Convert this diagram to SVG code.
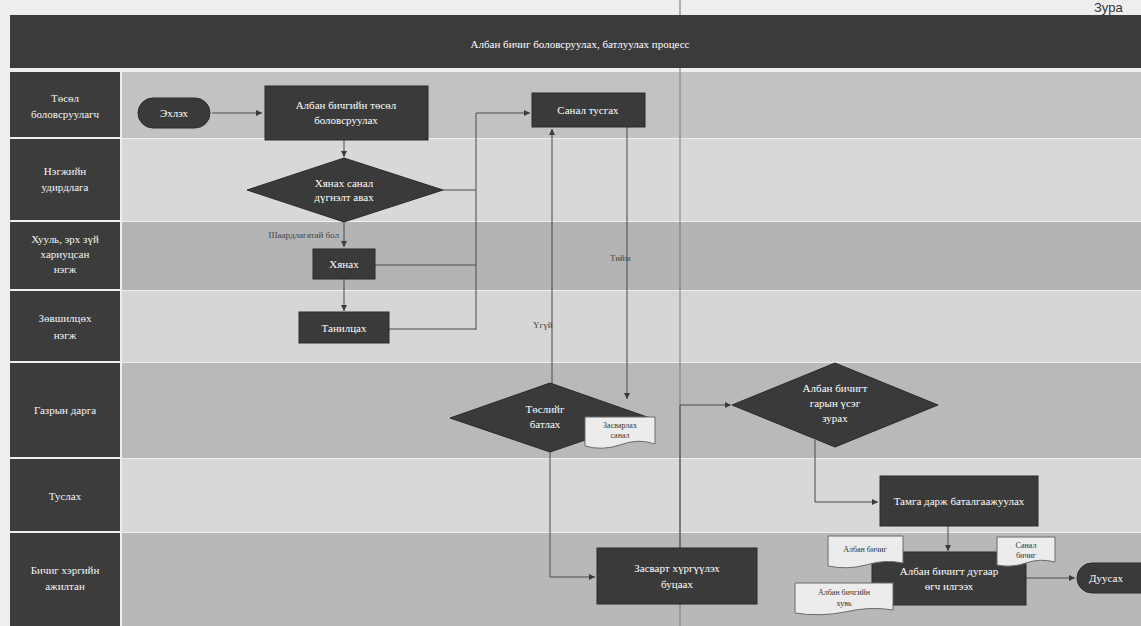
<svg xmlns="http://www.w3.org/2000/svg" width="1141" height="626" viewBox="0 0 1141 626">
<defs>
<style>
.bg{fill:#eeeeee}
.hdr{fill:#3c3c3c}
.node{fill:#3a3a3a;stroke:#2a2a2a;stroke-width:1}
.doc{fill:#ececec;stroke:#6a6a6a;stroke-width:1}
.t{font-family:"Liberation Serif","DejaVu Serif",serif;font-size:11px;fill:#ffffff;text-anchor:middle}
.th{font-family:"Liberation Serif","DejaVu Serif",serif;font-size:11px;fill:#f4f4f4;text-anchor:middle}
.td{font-family:"Liberation Serif","DejaVu Serif",serif;font-size:8px;fill:#333333;text-anchor:middle}
.tl{font-family:"Liberation Serif","DejaVu Serif",serif;font-size:9px;fill:#444444}
.c{fill:none;stroke:#4a4a4a;stroke-width:1}
</style>
<marker id="ah" markerWidth="7" markerHeight="7" refX="6" refY="3.5" orient="auto" markerUnits="userSpaceOnUse">
<path d="M0,0.5 L6,3.5 L0,6.5 Z" fill="#3a3a3a"/>
</marker>
</defs>
<rect class="bg" x="0" y="0" width="1141" height="626"/>
<text x="1094" y="12" font-family="Liberation Sans, sans-serif" font-size="13" fill="#333">Зура</text>
<g id="title">
<rect x="10" y="15" width="1131" height="53" fill="#3b3b3b"/>
<text x="580" y="48" class="t" font-size="12">Албан бичиг боловсруулах, батлуулах процесс</text>
</g>
<g id="lanes">
<rect x="122" y="72" width="1019" height="66" fill="#c2c2c2"/>
<rect x="122" y="139" width="1019" height="82" fill="#d8d8d8"/>
<rect x="122" y="222" width="1019" height="68" fill="#b4b4b4"/>
<rect x="122" y="291" width="1019" height="71" fill="#d6d6d6"/>
<rect x="122" y="363" width="1019" height="95" fill="#b9b9b9"/>
<rect x="122" y="459" width="1019" height="73" fill="#d8d8d8"/>
<rect x="122" y="533" width="1019" height="93" fill="#b8b8b8"/>
<rect class="hdr" x="10" y="72" width="110" height="65"/>
<rect class="hdr" x="10" y="139" width="110" height="81"/>
<rect class="hdr" x="10" y="222" width="110" height="67"/>
<rect class="hdr" x="10" y="291" width="110" height="70"/>
<rect class="hdr" x="10" y="363" width="110" height="94"/>
<rect class="hdr" x="10" y="459" width="110" height="72"/>
<rect class="hdr" x="10" y="533" width="110" height="93"/>
<text class="th" x="65" y="102">Төсөл</text>
<text class="th" x="65" y="118">боловсруулагч</text>
<text class="th" x="65" y="175">Нэгжийн</text>
<text class="th" x="65" y="191">удирдлага</text>
<text class="th" x="65" y="243">Хууль, эрх зүй</text>
<text class="th" x="65" y="258">хариуцсан</text>
<text class="th" x="65" y="273">нэгж</text>
<text class="th" x="65" y="322">Зөвшилцөх</text>
<text class="th" x="65" y="339">нэгж</text>
<text class="th" x="65" y="414">Газрын дарга</text>
<text class="th" x="65" y="500">Туслах</text>
<text class="th" x="65" y="574">Бичиг хэргийн</text>
<text class="th" x="65" y="590">ажилтан</text>
</g>
<g id="connectors">
<line x1="680" y1="0" x2="680" y2="15" stroke="#8a8a8a" stroke-width="1.2"/>
<line x1="680" y1="68" x2="680" y2="626" stroke="#7a7a7a" stroke-width="1.2" opacity="0.8"/>
<path class="c" d="M212,113 H262" marker-end="url(#ah)"/>
<path class="c" d="M344,140 V157" marker-end="url(#ah)"/>
<path class="c" d="M443,190 H476 M476,330 V113 H530" marker-end="url(#ah)"/>
<path class="c" d="M344,222 V247" marker-end="url(#ah)"/>
<path class="c" d="M375,265 H476"/>
<path class="c" d="M344,279 V311" marker-end="url(#ah)"/>
<path class="c" d="M389,329 H476"/>
<path class="c" d="M552,384 V129" marker-end="url(#ah)"/>
<path class="c" d="M627,127 V399" marker-end="url(#ah)"/>
<path class="c" d="M550,452 V577 H595" marker-end="url(#ah)"/>
<path class="c" d="M680,548 V405 H731" marker-end="url(#ah)"/>
<path class="c" d="M815,440 V502 H878" marker-end="url(#ah)"/>
<path class="c" d="M948,526 V551" marker-end="url(#ah)"/>
<path class="c" d="M1026,578 H1075" marker-end="url(#ah)"/>
<text class="tl" x="339" y="238" text-anchor="end" font-size="8">Шаардлагатай бол</text>
<text class="tl" x="610" y="261">Тийм</text>
<text class="tl" x="533" y="328">Үгүй</text>
</g>
<g id="start">
<rect class="node" x="138" y="98" width="72" height="30" rx="15"/>
<text class="t" x="174" y="117">Эхлэх</text>
</g>
<g id="draft">
<rect class="node" x="265" y="86" width="163" height="54"/>
<text class="t" x="346" y="109">Албан бичгийн төсөл</text>
<text class="t" x="346" y="124">боловсруулах</text>
</g>
<g id="review-decision">
<polygon class="node" points="344,158 443,190 344,222 247,190"/>
<text class="t" x="344" y="187">Хянах санал</text>
<text class="t" x="344" y="201">дүгнэлт авах</text>
</g>
<g id="review">
<rect class="node" x="313" y="249" width="62" height="30"/>
<text class="t" x="344" y="268">Хянах</text>
</g>
<g id="acquaint">
<rect class="node" x="299" y="312" width="90" height="31"/>
<text class="t" x="344" y="332">Танилцах</text>
</g>
<g id="incorporate">
<rect class="node" x="532" y="93" width="113" height="34"/>
<text class="t" x="588" y="114">Санал тусгах</text>
</g>
<g id="approve-decision">
<polygon class="node" points="550,383 650,418 550,452 450,418"/>
<text class="t" x="545" y="413">Төслийг</text>
<text class="t" x="545" y="428">батлах</text>
</g>
<g id="doc-comment">
<path class="doc" d="M585,417 H655 V444 Q638,438 620,445 Q602,451 585,446 Z"/>
<text class="td" x="620" y="428">Засварлах</text>
<text class="td" x="620" y="438" font-size="6">санал</text>
</g>
<g id="return">
<rect class="node" x="597" y="548" width="160" height="56"/>
<text class="t" x="677" y="572">Засварт хүргүүлэх</text>
<text class="t" x="677" y="588">буцаах</text>
</g>
<g id="sign-decision">
<polygon class="node" points="835,363 938,405 835,447 732,405"/>
<text class="t" x="835" y="392">Албан бичигт</text>
<text class="t" x="835" y="407">гарын үсэг</text>
<text class="t" x="835" y="422">зурах</text>
</g>
<g id="stamp">
<rect class="node" x="880" y="476" width="158" height="50"/>
<text class="t" x="959" y="505">Тамга дарж баталгаажуулах</text>
</g>
<g id="send">
<rect class="node" x="872" y="552" width="154" height="53"/>
<text class="t" x="949" y="575">Албан бичигт дугаар</text>
<text class="t" x="949" y="590">өгч илгээх</text>
</g>
<g id="doc-letter">
<path class="doc" d="M828,536 H903 V563 Q885,559 866,565 Q847,570 828,566 Z"/>
<text class="td" x="865" y="552">Албан бичиг</text>
</g>
<g id="doc-copy">
<path class="doc" d="M795,583 H893 V610 Q870,606 845,612 Q820,617 795,613 Z"/>
<text class="td" x="844" y="595">Албан бичгийн</text>
<text class="td" x="844" y="606">хувь</text>
</g>
<g id="doc-reply">
<path class="doc" d="M997,537 H1055 V562 Q1040,558 1026,563 Q1011,568 997,565 Z"/>
<text class="td" x="1026" y="548">Санал</text>
<text class="td" x="1026" y="558">бичиг</text>
</g>
<g id="end">
<rect class="node" x="1077" y="563" width="80" height="30" rx="15"/>
<text class="t" x="1106" y="582">Дуусах</text>
</g>
</svg>
